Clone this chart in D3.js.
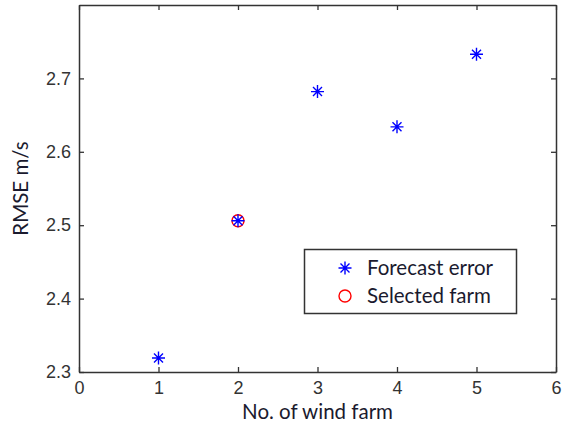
<!DOCTYPE html>
<html>
<head>
<meta charset="utf-8">
<script src="https://cdn.jsdelivr.net/npm/d3@7"></script>
<style>
  body { margin: 0; background: #fff; }
  svg { display: block; }
</style>
</head>
<body>
<script>
const farms = [1, 2, 3, 4, 5];
const rmse = [2.319, 2.506, 2.682, 2.634, 2.733];
const selectedFarm = [2];
const xTicks = [0, 1, 2, 3, 4, 5, 6];
const yTicks = [2.3, 2.4, 2.5, 2.6, 2.7];
const legendLabels = ['Forecast error', 'Selected farm'];

const width = 563;
const height = 430;
const margin = { top: 5, right: 7, bottom: 58, left: 79 };
const axisColor = '#333';
const labelFont = 'Lato, "Open Sans", sans-serif';

const svg = d3.select('body')
  .append('svg')
  .attr('width', width)
  .attr('height', height);

const x = d3.scaleLinear()
  .domain([0, 6])
  .range([margin.left, width - margin.right]);
const y = d3.scaleLinear()
  .domain([2.3, 2.8])
  .range([height - margin.bottom, margin.top]);

// ticks drawn inward on all four sides, like a matlab box
const tick = 5;
const xAxisB = d3.axisBottom(x).tickValues(xTicks).tickSizeInner(-tick).tickSizeOuter(0).tickPadding(9).tickFormat(d3.format('d'));
const xAxisT = d3.axisTop(x).tickValues(xTicks).tickSizeInner(-tick).tickSizeOuter(0).tickFormat('');
const yAxisL = d3.axisLeft(y).tickValues(yTicks).tickSizeInner(-tick).tickSizeOuter(0).tickPadding(8).tickFormat(d3.format('.1f'));
const yAxisR = d3.axisRight(y).tickValues(yTicks).tickSizeInner(-tick).tickSizeOuter(0).tickFormat('');

function styleAxis(g) {
  g.selectAll('.domain').attr('stroke', axisColor).attr('stroke-width', 1.5);
  g.selectAll('.tick line').attr('stroke', axisColor).attr('stroke-width', 1.3);
  g.selectAll('.tick text')
    .attr('fill', '#333')
    .style('font-family', '"Liberation Sans", Arial, sans-serif')
    .style('font-size', '18px');
}

svg.append('g').attr('transform', `translate(0,${y.range()[0]})`).call(xAxisB).call(styleAxis);
svg.append('g').attr('transform', `translate(0,${y.range()[1]})`).call(xAxisT).call(styleAxis);
svg.append('g').attr('transform', `translate(${x.range()[0]},0)`).call(yAxisL).call(styleAxis);
svg.append('g').attr('transform', `translate(${x.range()[1]},0)`).call(yAxisR).call(styleAxis);

// asterisk marker
const star = 'M-6.5,0H6.5M0,-6.5V6.5M-4.5,-4.5L4.5,4.5M-4.5,4.5L4.5,-4.5';

svg.append('g')
  .selectAll('circle')
  .data(selectedFarm)
  .enter().append('circle')
  .attr('cx', d => x(d))
  .attr('cy', d => y(rmse[farms.indexOf(d)]))
  .attr('r', 6)
  .attr('fill', 'none')
  .attr('stroke', '#ff0000')
  .attr('stroke-width', 1.4);

svg.append('g')
  .selectAll('path')
  .data(farms)
  .enter().append('path')
  .attr('d', star)
  .attr('transform', (d, i) => `translate(${x(d)},${y(rmse[i])})`)
  .attr('stroke', '#0000ff')
  .attr('stroke-width', 1.4)
  .attr('fill', 'none');

// legend
const lg = svg.append('g');
lg.append('rect')
  .attr('x', 304.5).attr('y', 249.5)
  .attr('width', 212).attr('height', 64)
  .attr('fill', '#fff')
  .attr('stroke', axisColor)
  .attr('stroke-width', 1.5);
lg.append('path')
  .attr('d', star)
  .attr('transform', 'translate(345,268)')
  .attr('stroke', '#0000ff').attr('stroke-width', 1.4).attr('fill', 'none');
lg.append('circle')
  .attr('cx', 345).attr('cy', 296).attr('r', 6)
  .attr('fill', 'none').attr('stroke', '#ff0000').attr('stroke-width', 1.4);
lg.selectAll('text')
  .data(legendLabels)
  .enter().append('text')
  .attr('x', 367)
  .attr('y', (d, i) => 268 + i * 28)
  .attr('dy', '0.35em')
  .attr('fill', '#1a1a2e')
  .style('font-family', labelFont)
  .style('font-size', '20.5px')
  .text(d => d);

// axis titles
svg.append('text')
  .attr('x', (x.range()[0] + x.range()[1]) / 2)
  .attr('y', 419)
  .attr('text-anchor', 'middle')
  .attr('fill', '#1a1a2e')
  .style('font-family', labelFont)
  .style('font-size', '20.5px')
  .text('No. of wind farm');

svg.append('text')
  .attr('transform', `translate(28,${(y.range()[0] + y.range()[1]) / 2}) rotate(-90)`)
  .attr('text-anchor', 'middle')
  .attr('fill', '#1a1a2e')
  .style('font-family', labelFont)
  .style('font-size', '20.5px')
  .text('RMSE m/s');
</script>
</body>
</html>
